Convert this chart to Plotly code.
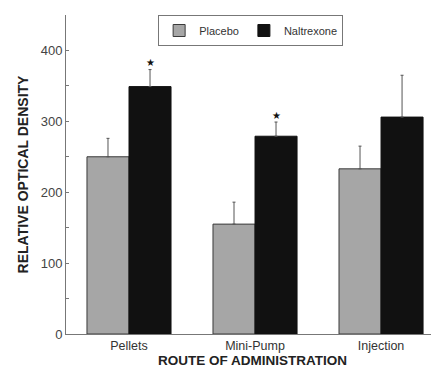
import plotly.graph_objects as go

categories = ["Pellets", "Mini-Pump", "Injection"]
placebo = [250, 155, 233]
placebo_err = [26, 31, 32]
naltrexone = [349, 279, 306]
naltrexone_err = [24, 20, 59]
significant = [True, True, False]
y_ticks = [0, 100, 200, 300, 400]

fig = go.Figure()
fig.add_trace(go.Bar(
    name="Placebo", x=categories, y=placebo,
    marker=dict(color="#a6a6a6", line=dict(color="#3a3a3a", width=1)),
    error_y=dict(type="data", array=placebo_err, arrayminus=[0]*3, symmetric=False,
                 color="#555555", thickness=1, width=1.5),
))
fig.add_trace(go.Bar(
    name="Naltrexone", x=categories, y=naltrexone,
    marker=dict(color="#111111", line=dict(color="#111111", width=1)),
    error_y=dict(type="data", array=naltrexone_err, arrayminus=[0]*3, symmetric=False,
                 color="#555555", thickness=1, width=1.5),
))

for c, v, e, s in zip(categories, naltrexone, naltrexone_err, significant):
    if s:
        fig.add_annotation(x=c, y=v + e, text="★", showarrow=False,
                           xref="x", yref="y", xshift=21, yshift=7,
                           font=dict(size=10, color="#111111"))

font = "Liberation Sans, Arial, sans-serif"
fig.update_layout(
    width=431, height=361,
    margin=dict(l=58, r=0, t=7, b=35),
    paper_bgcolor="white", plot_bgcolor="white",
    barmode="group", bargap=0.333, bargroupgap=0,
    font=dict(family=font, size=12, color="#333333"),
    showlegend=True,
    legend=dict(orientation="h", x=0.247, y=1.0, xanchor="left", yanchor="top",
                bordercolor="#777777", borderwidth=1, bgcolor="white",
                font=dict(size=11, color="#333333"),
                tracegroupgap=0),
    xaxis=dict(range=[-0.5, 2.46], showline=True, linecolor="#777777", linewidth=1,
               ticks="", showgrid=False, zeroline=False, automargin=False,
               tickfont=dict(size=12.5, color="#333333"),
               title=dict(text="<b>ROUTE OF ADMINISTRATION</b>", standoff=2,
                          font=dict(size=13.5, color="#222222"))),
    yaxis=dict(range=[0, 450], showline=True, linecolor="#777777", linewidth=1,
               tickvals=y_ticks, ticks="inside", ticklen=3, tickcolor="#777777",
               minor=dict(dtick=50, ticks="inside", ticklen=3, tickcolor="#777777"),
               showgrid=False, zeroline=False, automargin=False,
               tickfont=dict(size=13, color="#444444"),
               title=dict(text="<b>RELATIVE OPTICAL DENSITY</b>", standoff=8,
                          font=dict(size=14, color="#222222"))),
)

fig.write_html("out.html")
